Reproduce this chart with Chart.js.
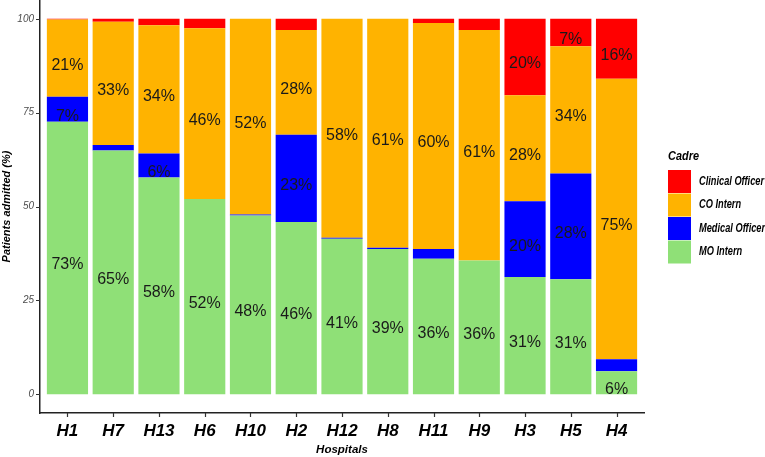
<!DOCTYPE html>
<html><head><meta charset="utf-8">
<script src="https://cdn.jsdelivr.net/npm/chart.js@4/dist/chart.umd.min.js"></script>
<style>html,body{margin:0;padding:0;background:#fff}canvas{display:block}</style>
</head><body>
<canvas id="c" width="765" height="457"></canvas>
<script>
const hospitals = ['H1','H7','H13','H6','H10','H2','H12','H8','H11','H9','H3','H5','H4'];
const moIntern        = [72.6,64.9,57.7,52.0,47.6,45.9,41.4,38.7,36.1,35.6,31.2,30.6,6.1];
const medicalOfficer  = [6.6,1.5,6.4,0,0.3,23.2,0.3,0.3,2.6,0,20.2,28.2,3.2];
const coIntern        = [20.6,32.8,34.2,45.5,52.1,27.9,58.3,61.0,60.2,61.4,28.2,33.9,74.7];
const clinicalOfficer = [0.2,0.8,1.7,2.5,0,3.0,0,0,1.1,3.0,20.4,7.3,16.0];
const yTicks = [0,25,50,75,100];
const legendTitle = 'Cadre';
const legendOrder = ['Clinical Officer','CO Intern','Medical Officer','MO Intern'];

const COLORS = {'MO Intern':'#8FE077','Medical Officer':'#0000FF','CO Intern':'#FFB300','Clinical Officer':'#FF0000'};
const SANS = "'Liberation Sans',Arial,sans-serif";

const series = [
  ['MO Intern', moIntern],
  ['Medical Officer', medicalOfficer],
  ['CO Intern', coIntern],
  ['Clinical Officer', clinicalOfficer]
];

const datasets = series.map(([name, vals]) => ({
  label: name,
  data: vals.map((v, i) => ({x: i + 1, y: v})),
  backgroundColor: COLORS[name],
  borderWidth: 0,
  barPercentage: 0.9,
  categoryPercentage: 1.0
}));

const labelPlugin = {
  id: 'segLabels',
  afterDatasetsDraw(chart) {
    const ctx = chart.ctx;
    ctx.save();
    ctx.font = '16px ' + SANS;
    ctx.fillStyle = '#1a1a1a';
    ctx.textAlign = 'center';
    ctx.textBaseline = 'middle';
    chart.data.datasets.forEach((ds, di) => {
      const meta = chart.getDatasetMeta(di);
      meta.data.forEach((bar, j) => {
        const v = ds.data[j].y;
        if (v < 5) return;
        const p = bar.getProps(['x', 'y', 'base'], true);
        ctx.fillText(Math.round(v) + '%', p.x, (p.y + p.base) / 2 + 7);
      });
    });
    ctx.restore();
  }
};

const tickMarkPlugin = {
  id: 'tickMarks',
  afterDraw(chart) {
    const ctx = chart.ctx;
    const xs = chart.scales.x, ys = chart.scales.y;
    const area = chart.chartArea;
    ctx.save();
    ctx.strokeStyle = '#333';
    ctx.lineWidth = 1.2;
    ctx.beginPath();
    hospitals.forEach((_, i) => {
      const px = Math.round(xs.getPixelForValue(i + 1)) + 0.5;
      ctx.moveTo(px, area.bottom);
      ctx.lineTo(px, area.bottom + 4);
    });
    yTicks.forEach(v => {
      const py = Math.round(ys.getPixelForValue(v)) + 0.5;
      ctx.moveTo(area.left - 4, py);
      ctx.lineTo(area.left, py);
    });
    ctx.stroke();
    ctx.restore();
  }
};

function narrowText(ctx, text, x, y, sx) {
  ctx.save();
  ctx.translate(x, y);
  ctx.scale(sx, 1);
  ctx.fillText(text, 0, 0);
  ctx.restore();
}

const legendPlugin = {
  id: 'rightLegend',
  afterDraw(chart) {
    const ctx = chart.ctx;
    ctx.save();
    const x0 = 668, y0 = 170, box = 23, gap = 0.5;
    ctx.fillStyle = '#000';
    ctx.textAlign = 'left';
    ctx.textBaseline = 'middle';
    ctx.font = 'italic bold 13px ' + SANS;
    narrowText(ctx, legendTitle, x0, 156, 0.84);
    ctx.font = 'italic bold 12px ' + SANS;
    legendOrder.forEach((name, i) => {
      const y = y0 + i * (box + gap);
      ctx.fillStyle = COLORS[name];
      ctx.fillRect(x0, y, box, box);
      ctx.fillStyle = '#000';
      narrowText(ctx, name, 699, y + box / 2, 0.77);
    });
    ctx.restore();
  }
};

const noGrid = {display: false, drawOnChartArea: false, drawTicks: false};

new Chart(document.getElementById('c'), {
  type: 'bar',
  data: {datasets},
  options: {
    responsive: false,
    animation: false,
    devicePixelRatio: 1,
    layout: {padding: {top: 0, right: 121, bottom: 0, left: 0}},
    plugins: {legend: {display: false}, tooltip: {enabled: false}},
    scales: {
      x: {
        type: 'linear', stacked: true, min: 0.4, max: 13.6, offset: false,
        afterBuildTicks: s => { s.ticks = hospitals.map((_, i) => ({value: i + 1})); },
        afterFit: s => { s.height = 44; s.paddingLeft = 0; s.paddingRight = 0; },
        ticks: {
          callback: v => hospitals[v - 1],
          autoSkip: false, maxRotation: 0, padding: 8,
          color: '#000',
          font: {family: SANS, size: 17, weight: 'bold', style: 'italic'}
        },
        grid: noGrid,
        border: {display: true, color: '#222', width: 1.5},
        title: {display: true, text: 'Hospitals', color: '#000', padding: {top: 0, bottom: 0},
          font: {family: SANS, size: 11.5, weight: 'bold', style: 'italic'}}
      },
      y: {
        stacked: true, min: -5, max: 105,
        afterBuildTicks: s => { s.ticks = yTicks.map(v => ({value: v})); },
        afterFit: s => { s.width = 40; s.paddingTop = 0; s.paddingBottom = 0; },
        ticks: {
          color: '#4d4d4d', padding: 6,
          font: {family: SANS, size: 10, style: 'italic'}
        },
        grid: noGrid,
        border: {display: true, color: '#222', width: 1.5},
        title: {display: true, text: 'Patients admitted (%)', color: '#000', padding: {top: 0, bottom: 2},
          font: {family: SANS, size: 11, weight: 'bold', style: 'italic'}}
      }
    }
  },
  plugins: [labelPlugin, tickMarkPlugin, legendPlugin]
});
</script>
</body></html>
